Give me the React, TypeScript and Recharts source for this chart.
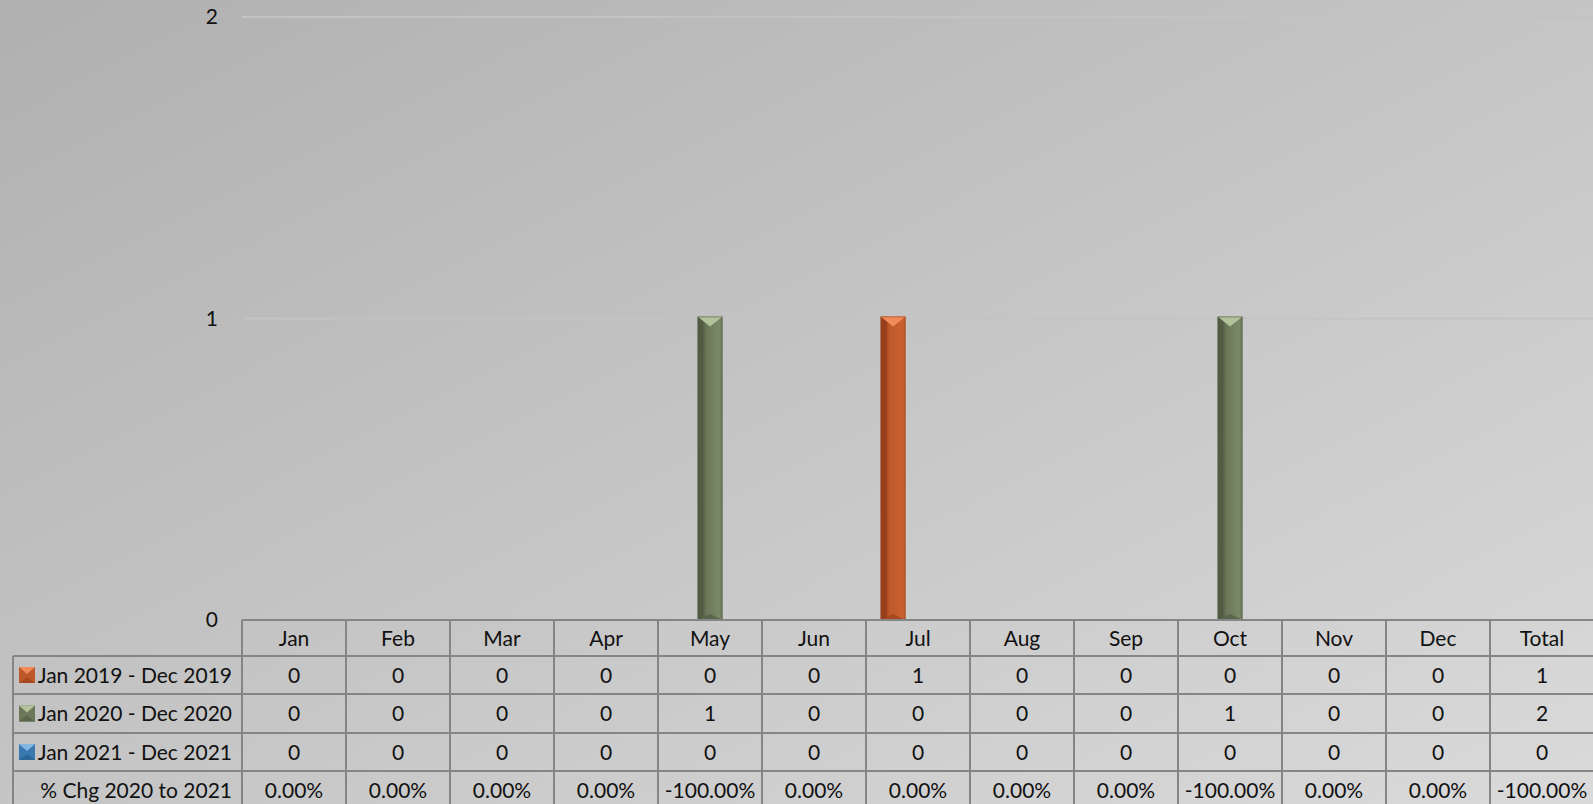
import React from "react";
import { BarChart, Bar, XAxis, YAxis, CartesianGrid } from "recharts";

const categories = ["Jan", "Feb", "Mar", "Apr", "May", "Jun", "Jul", "Aug", "Sep", "Oct", "Nov", "Dec", "Total"];
const seriesNames = ["Jan 2019 - Dec 2019", "Jan 2020 - Dec 2020", "Jan 2021 - Dec 2021"];
const values2019 = [0, 0, 0, 0, 0, 0, 1, 0, 0, 0, 0, 0, 1];
const values2020 = [0, 0, 0, 0, 1, 0, 0, 0, 0, 1, 0, 0, 2];
const values2021 = [0, 0, 0, 0, 0, 0, 0, 0, 0, 0, 0, 0, 0];
const pctChange = ["0.00%", "0.00%", "0.00%", "0.00%", "-100.00%", "0.00%", "0.00%", "0.00%", "0.00%", "-100.00%", "0.00%", "0.00%", "-100.00%"];
const yTicks = [0, 1, 2];

// bars are only drawn for the months, the Total column lives in the table only
const chartData = categories.map((name, i) => ({
  name,
  y2019: name === "Total" ? null : values2019[i],
  y2020: name === "Total" ? null : values2020[i],
  y2021: name === "Total" ? null : values2021[i],
}));

const tableRows = [values2019, values2020, values2021];

const palette = [
  { id: "org", left: "#973f1c", mid: "#bd582a", right: "#c9622f", top: "#f28b5a", bottom: "#a8491f" },
  { id: "grn", left: "#525c44", mid: "#6a7859", right: "#798866", top: "#b2c39c", bottom: "#5a664b" },
  { id: "blu", left: "#245a8c", mid: "#3a78b0", right: "#4787bf", top: "#84b6e2", bottom: "#2c6598" },
];

const FONT = "Lato, 'Open Sans', sans-serif";
const FS = 21;
const COL_W = 104;
const ROWS = [0, 36, 74, 113, 151, 190];
const LINE = "#858585";

const bevelBar = (p: (typeof palette)[number]) => (props: any) => {
  const { x, y, width, height } = props;
  if (!height || height <= 0) return null;
  const d = Math.min(10, height / 2);
  return (
    <g>
      <rect x={x} y={y - 2} width={width} height={height + 2} fill={`url(#bar-${p.id})`} />
      <polygon points={`${x},${y - 2} ${x + width},${y - 2} ${x + width / 2},${y - 2 + d}`} fill={p.top} />
      <polygon points={`${x},${y + height} ${x + width},${y + height} ${x + width / 2},${y + height - 6}`} fill={p.bottom} />
      <rect x={x + 0.5} y={y - 1.5} width={width - 1} height={height + 1} fill="none" stroke={p.left} strokeOpacity={0.5} />
    </g>
  );
};

const Swatch = ({ x, y, p }: any) => (
  <g>
    <rect x={x} y={y} width={16} height={16} fill={p.mid} />
    <polygon points={`${x},${y} ${x + 16},${y} ${x + 8},${y + 7}`} fill={p.top} />
    <polygon points={`${x},${y + 16} ${x + 16},${y + 16} ${x + 8},${y + 10}`} fill={p.bottom} />
  </g>
);

const TableTick = (props: any) => {
  const { x, y, payload } = props;
  const i = payload.index;
  const l = x - COL_W / 2;
  const r = x + COL_W / 2;
  const mid = (k: number) => y + (ROWS[k] + ROWS[k + 1]) / 2 - 1;
  const cells = [categories[i], ...tableRows.map((row) => String(row[i])), pctChange[i]];
  return (
    <g>
      {ROWS.map((ry) => (
        <line key={ry} x1={l} x2={r} y1={y + ry} y2={y + ry} stroke={LINE} strokeWidth={2} />
      ))}
      <line x1={l} x2={l} y1={y} y2={y + ROWS[5]} stroke={LINE} strokeWidth={2} />
      <line x1={r} x2={r} y1={y} y2={y + ROWS[5]} stroke={LINE} strokeWidth={2} />
      {cells.map((t, k) => (
        <text key={k} x={x} y={mid(k)} textAnchor="middle" dominantBaseline="central" fontFamily={FONT} fontSize={FS} fill="#111">
          {t}
        </text>
      ))}
      {i === 0 && (
        <g>
          {ROWS.slice(1).map((ry) => (
            <line key={ry} x1={13} x2={l} y1={y + ry} y2={y + ry} stroke={LINE} strokeWidth={2} />
          ))}
          <line x1={13} x2={13} y1={y + ROWS[1]} y2={y + ROWS[5]} stroke={LINE} strokeWidth={2} />
          {seriesNames.map((s, k) => (
            <g key={s}>
              <Swatch x={19} y={mid(k + 1) - 7} p={palette[k]} />
              <text x={l - 10} y={mid(k + 1)} textAnchor="end" dominantBaseline="central" fontFamily={FONT} fontSize={FS} fill="#111">
                {s}
              </text>
            </g>
          ))}
          <text x={l - 10} y={mid(4)} textAnchor="end" dominantBaseline="central" fontFamily={FONT} fontSize={FS} fill="#111">
            % Chg 2020 to 2021
          </text>
        </g>
      )}
    </g>
  );
};

export default function App() {
  return (
    <div
      style={{
        position: "absolute",
        left: 0,
        top: 0,
        width: 1593,
        height: 804,
        overflow: "hidden",
        background: "linear-gradient(to bottom right, #b0b0b0, #dadada)",
        fontFamily: FONT,
      }}
    >
      <BarChart
        width={1600}
        height={804}
        data={chartData}
        margin={{ top: 17, right: 6, left: 0, bottom: 0 }}
        barGap={0}
        barCategoryGap="14%"
      >
        <defs>
          {palette.map((p) => (
            <linearGradient key={p.id} id={`bar-${p.id}`} x1="0" y1="0" x2="1" y2="0">
              <stop offset="0%" stopColor={p.left} />
              <stop offset="20%" stopColor={p.left} />
              <stop offset="35%" stopColor={p.mid} />
              <stop offset="85%" stopColor={p.right} />
              <stop offset="100%" stopColor={p.mid} />
            </linearGradient>
          ))}
        </defs>
        <CartesianGrid vertical={false} stroke="#c3c3c3" strokeWidth={2} />
        <XAxis
          dataKey="name"
          height={184}
          interval={0}
          axisLine={false}
          tickLine={false}
          tickSize={0}
          tickMargin={0}
          tick={<TableTick />}
        />
        <YAxis
          width={242}
          domain={[0, 2]}
          ticks={yTicks}
          axisLine={false}
          tickLine={false}
          tickSize={0}
          tickMargin={24}
          tick={{ fontSize: FS, fill: "#111", fontFamily: FONT }}
        />
        <Bar dataKey="y2019" name={seriesNames[0]} shape={bevelBar(palette[0])} isAnimationActive={false} />
        <Bar dataKey="y2020" name={seriesNames[1]} shape={bevelBar(palette[1])} isAnimationActive={false} />
        <Bar dataKey="y2021" name={seriesNames[2]} shape={bevelBar(palette[2])} isAnimationActive={false} />
      </BarChart>
    </div>
  );
}
